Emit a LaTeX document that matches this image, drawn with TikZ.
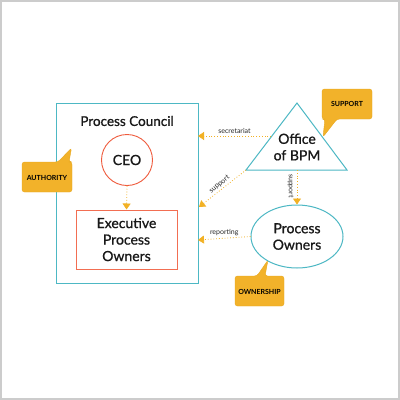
\documentclass[tikz,border=0pt]{standalone}
\usepackage{fontspec}
\setmainfont{Lato}
\newfontfamily\medfont{Lato}[FakeBold=0.9]
\usetikzlibrary{arrows.meta,shapes.geometric}
\definecolor{teal1}{HTML}{4DB8C4}
\definecolor{ceored}{HTML}{EF5B3D}
\definecolor{exred}{HTML}{F26E52}
\definecolor{orng}{HTML}{F2B124}
\definecolor{callfill}{HTML}{F2B22A}
\definecolor{calldraw}{HTML}{E8A81E}
\definecolor{framegray}{HTML}{CCCCCC}
\tikzset{
  big/.style={font=\medfont\fontsize{14}{16.5}\selectfont, align=center, text=black!90},
  lbl/.style={font=\fontsize{7}{8}\selectfont, text=black!85, inner sep=1pt},
  calltxt/.style={font=\bfseries\fontsize{7}{8}\selectfont, text=black},
  conn/.style={draw=orng, line width=0.8pt, dotted, -{Triangle[length=6pt,width=8pt,fill=orng]}},
  callout/.style={fill=callfill, draw=calldraw, line width=0.4pt, rounded corners=2.5pt},
}
\begin{document}
\begin{tikzpicture}[x=1pt,y=-1pt]
\useasboundingbox (0,0) rectangle (400,400);
\fill[white] (0,0) rectangle (400,400);
\draw[framegray, line width=1.2pt] (1,1) rectangle (399,399);
% Process Council box
\draw[teal1, line width=1pt] (56,103) rectangle (198,283);
\coordinate (pc-sec) at (198,136);
\coordinate (pc-sup) at (199,207);
\coordinate (pc-rep) at (198,240);
\node[big, font=\medfont\fontsize{13.5}{15}\selectfont] (pctitle) at (127,121) {Process Council};
% CEO
\node[draw=ceored, line width=0.9pt, circle, minimum size=51pt, inner sep=0pt, big] (ceo) at (127,160) {CEO};
% Executive Process Owners
\node[draw=exred, line width=1pt, minimum width=101pt, minimum height=59pt, inner sep=0pt, big] (exec) at (126.5,239.5) {Executive\\Process\\Owners};
\draw[conn] (ceo.south) -- (exec.north);
% Triangle
\coordinate (tri-t) at (297,103);
\coordinate (tri-l) at (246,170);
\coordinate (tri-r) at (347,170);
\coordinate (tri-b) at (297,170);
\coordinate (tri-sec) at (271,136);
\draw[teal1, line width=1pt, line join=miter] (tri-t) -- (tri-r) -- (tri-l) -- cycle;
\node[big] (bpm) at (297,147) {Office\\of BPM};
% Process Owners
\node[draw=teal1, line width=1pt, ellipse, minimum width=92pt, minimum height=63pt, inner sep=0pt, big] (po) at (297,236.5) {Process\\Owners};
% connectors
\draw[conn] (tri-sec) -- node[lbl, above=1pt] {secretariat} (pc-sec);
\draw[conn] (tri-l) -- (pc-sup);
\node[lbl, rotate=39] (dsup) at (219.5,184.5) {support};
\draw[conn] (tri-b) -- (po.north);
\node[lbl, rotate=-90] (vsup) at (290.5,186) {support};
\draw[conn] (po.west) -- node[lbl, above=1pt] {reporting} (pc-rep);
% Callouts
\coordinate (auth-tip) at (71.5,148);
\draw[callout] (22,162) -- (58,162) -- (auth-tip) -- (69,162) -- (72,162) -- (72,192) -- (22,192) -- cycle;
\node[calltxt] (auth) at (47,177.5) {AUTHORITY};
\coordinate (sup-tip) at (323,137);
\draw[callout] (322,89) -- (372,89) -- (372,119) -- (337,119) -- (sup-tip) -- (325,119) -- (322,119) -- cycle;
\node[calltxt] (supc) at (347,104) {SUPPORT};
\coordinate (own-tip) at (268,260);
\draw[callout] (235,276) -- (257,276) -- (own-tip) -- (265,276) -- (284,276) -- (284,306) -- (235,306) -- cycle;
\node[calltxt] (own) at (259.5,291.5) {OWNERSHIP};
\end{tikzpicture}
\end{document}
